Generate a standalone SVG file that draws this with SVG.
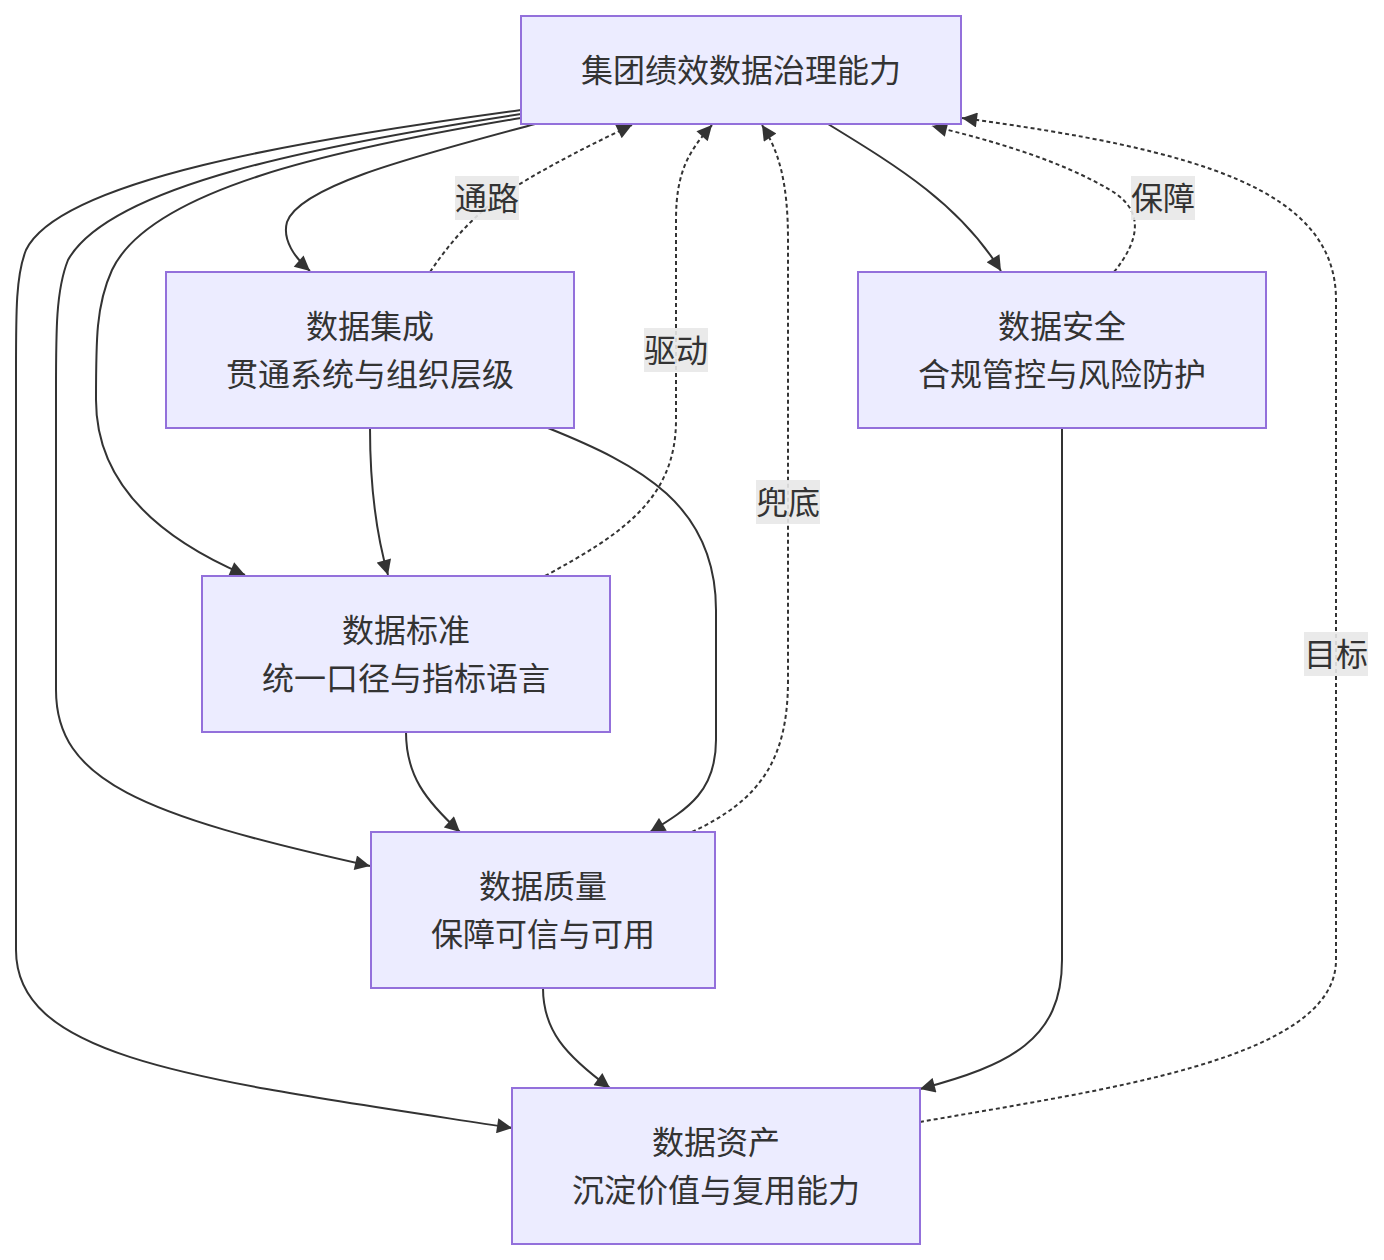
<svg xmlns="http://www.w3.org/2000/svg" width="1384" height="1260" viewBox="0 0 1384 1260">
<style>
.node rect{fill:#ECECFF;stroke:#9370DB;stroke-width:2}
.node text,.lbl text{font-family:"Noto Sans CJK SC","Noto Sans",sans-serif;font-size:32px;fill:#333;text-anchor:middle;dominant-baseline:central}
.e{fill:none;stroke:#333;stroke-width:2}
.d{fill:none;stroke:#333;stroke-width:2;stroke-dasharray:4 3}
.lbl rect{fill:#e8e8e8;opacity:0.9}
</style>
<defs>
<marker id="ah" viewBox="0 0 10 10" refX="10" refY="5" markerWidth="16" markerHeight="15" markerUnits="userSpaceOnUse" orient="auto">
<path d="M0,0 L10,5 L0,10 z" fill="#333"/>
</marker>
</defs>
<rect width="1384" height="1260" fill="#fff"/>
<g id="edges">
<path class="e" marker-end="url(#ah)" d="M535,124 C420,155 300,185 287,222 C282,240 295,258 310,271"/>
<path class="e" marker-end="url(#ah)" d="M521,118 C330,150 150,190 112,270 C96,305 96,340 96,400 C96,470 140,530 245,575"/>
<path class="e" marker-end="url(#ah)" d="M521,114 C320,145 110,185 68,260 C56,290 56,330 56,390 L56,690 C56,780 140,815 370,866"/>
<path class="e" marker-end="url(#ah)" d="M521,110 C300,140 60,180 26,250 C16,275 16,310 16,370 L16,950 C16,1060 200,1080 512,1128"/>
<path class="e" marker-end="url(#ah)" d="M828,124 C900,168 960,205 1001,271"/>
<path class="e" marker-end="url(#ah)" d="M370,428 C370,480 375,530 388,575"/>
<path class="e" marker-end="url(#ah)" d="M548,428 C640,465 716,505 716,610 L716,740 C716,790 690,808 650,832"/>
<path class="e" marker-end="url(#ah)" d="M406,732 C406,775 425,800 460,832"/>
<path class="e" marker-end="url(#ah)" d="M543,988 C543,1030 565,1055 610,1088"/>
<path class="e" marker-end="url(#ah)" d="M1062,428 L1062,960 C1062,1040 1010,1065 920,1089"/>
<path class="d" marker-end="url(#ah)" d="M430,272 C455,235 480,210 510,190 C550,165 590,145 632,125"/>
<path class="d" marker-end="url(#ah)" d="M545,576 C620,535 676,500 676,420 L676,220 C676,170 690,150 712,125"/>
<path class="d" marker-end="url(#ah)" d="M692,832 C760,800 788,760 788,680 L788,240 C788,180 778,150 762,125"/>
<path class="d" marker-end="url(#ah)" d="M1114,272 C1140,240 1145,210 1110,190 C1060,160 990,140 932,126"/>
<path class="d" marker-end="url(#ah)" d="M920,1122 C1100,1090 1336,1060 1336,960 L1336,300 C1336,190 1200,150 962,118"/>
</g>
<g id="labels">
<g class="lbl"><rect x="455" y="176" width="64" height="44"/><text x="487" y="196">通路</text></g>
<g class="lbl"><rect x="644" y="328" width="64" height="44"/><text x="676" y="348">驱动</text></g>
<g class="lbl"><rect x="756" y="480" width="64" height="44"/><text x="788" y="500">兜底</text></g>
<g class="lbl"><rect x="1131" y="176" width="64" height="44"/><text x="1163" y="196">保障</text></g>
<g class="lbl"><rect x="1304" y="632" width="64" height="44"/><text x="1336" y="652">目标</text></g>
</g>
<g id="n-top" class="node"><rect x="521" y="16" width="440" height="108"/><text x="741" y="68">集团绩效数据治理能力</text></g>
<g id="n-integ" class="node"><rect x="166" y="272" width="408" height="156"/><text x="370" y="324">数据集成</text><text x="370" y="372">贯通系统与组织层级</text></g>
<g id="n-sec" class="node"><rect x="858" y="272" width="408" height="156"/><text x="1062" y="324">数据安全</text><text x="1062" y="372">合规管控与风险防护</text></g>
<g id="n-std" class="node"><rect x="202" y="576" width="408" height="156"/><text x="406" y="628">数据标准</text><text x="406" y="676">统一口径与指标语言</text></g>
<g id="n-qual" class="node"><rect x="371" y="832" width="344" height="156"/><text x="543" y="884">数据质量</text><text x="543" y="932">保障可信与可用</text></g>
<g id="n-asset" class="node"><rect x="512" y="1088" width="408" height="156"/><text x="716" y="1140">数据资产</text><text x="716" y="1188">沉淀价值与复用能力</text></g>
</svg>
